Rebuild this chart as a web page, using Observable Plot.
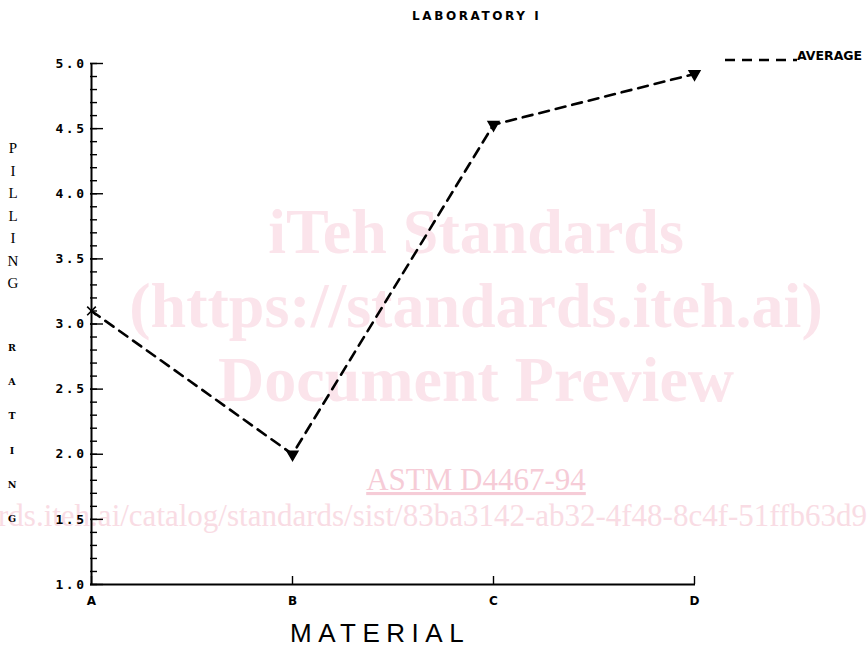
<!DOCTYPE html>
<html><head><meta charset="utf-8">
<script src="https://cdn.jsdelivr.net/npm/d3@7"></script>
<script src="https://cdn.jsdelivr.net/npm/@observablehq/plot@0.6"></script>
<style>
html,body{margin:0;padding:0;background:#fff;}
#chart svg{display:block;}
#chart [aria-label="y-axis tick label"] text{letter-spacing:2.5px;}
</style></head><body><div id="chart"></div>
<script>
const materials = ["A", "B", "C", "D"];
const averageRating = [3.1, 2.0, 4.53, 4.92];
const yMajorTicks = [1.0, 1.5, 2.0, 2.5, 3.0, 3.5, 4.0, 4.5, 5.0];
const yMinorTicks = d3.range(10, 51).map(i => i / 10);
const titleText = "LABORATORY I";
const xLabel = "MATERIAL";
const yLabelTop = "PILLING";
const yLabelBottom = "RATING";
const legendLabel = "AVERAGE";
const watermarkLines = ["iTeh Standards", "(https://standards.iteh.ai)", "Document Preview"];
const watermarkCode = "ASTM D4467-94";
const watermarkUrl = "rds.iteh.ai/catalog/standards/sist/83ba3142-ab32-4f48-8c4f-51ffb63d9";

const data = materials.map((m, i) => ({material: m, rating: averageRating[i]}));

const chart = Plot.plot({
  width: 867, height: 647,
  marginLeft: 90, marginRight: 172, marginTop: 63, marginBottom: 63,
  style: {background: "transparent", color: "#000"},
  x: {type: "point", domain: materials, padding: 0, label: null},
  y: {domain: [1, 5], label: null},
  marks: [
    Plot.axisY(yMinorTicks, {tickSize: -7, tickFormat: () => "", strokeWidth: 1.4, label: null}),
    Plot.axisY(yMajorTicks, {tickSize: -13, tickPadding: 17, tickFormat: d => d.toFixed(1), strokeWidth: 1.4,
      fontSize: 13, fontWeight: "bold", fontFamily: "DejaVu Sans Mono", label: null}),
    Plot.axisX(materials, {tickSize: -8, tickPadding: 20, fontSize: 12, fontWeight: "bold",
      fontFamily: "DejaVu Sans", strokeWidth: 1.4, label: null}),
    Plot.ruleY([1], {strokeWidth: 2}),
    Plot.ruleX([materials[0]], {strokeWidth: 2}),
    Plot.line(data, {x: "material", y: "rating", stroke: "#000", strokeWidth: 2.6, strokeDasharray: "10,7"}),
    Plot.dot(data.filter(d => d.material === "A"), {x: "material", y: "rating", symbol: "times", r: 4, stroke: "#000", strokeWidth: 1.6}),
    Plot.dot(data.filter(d => d.material !== "A"), {x: "material", y: "rating", symbol: "triangle", r: 4, fill: "#000", stroke: "#000", rotate: 180})
  ]
});
document.getElementById("chart").appendChild(chart);

const svg = d3.select(chart);
// watermark behind everything
const wm = svg.insert("g", "g").attr("aria-label", "watermark");
watermarkLines.forEach((t, i) => {
  wm.append("text").attr("x", 476).attr("y", 253 + 74 * i)
    .attr("text-anchor", "middle").attr("font-family", "Liberation Serif").attr("font-weight", "bold")
    .attr("font-size", 64).attr("fill", "#fbe4eb").text(t);
});
wm.append("text").attr("x", 476).attr("y", 490).attr("text-anchor", "middle")
  .attr("font-family", "Liberation Serif").attr("font-size", 31).attr("fill", "#f6ccd7")
  .style("text-decoration", "underline").text(watermarkCode);
wm.append("text").attr("x", -2).attr("y", 526).attr("text-anchor", "start")
  .attr("font-family", "Liberation Serif").attr("font-size", 31).attr("fill", "#f9dce4").text(watermarkUrl);

// title
svg.append("text").attr("x", 412).attr("y", 20).attr("text-anchor", "start").attr("font-family", "DejaVu Sans").attr("font-weight", "bold")
  .attr("font-size", 12).attr("letter-spacing", 2.6).attr("fill", "#000").text(titleText);

// legend
svg.append("line").attr("x1", 725).attr("x2", 797).attr("y1", 60).attr("y2", 60)
  .attr("stroke", "#000").attr("stroke-width", 2.6).attr("stroke-dasharray", "10,7");
svg.append("text").attr("x", 797).attr("y", 60).attr("text-anchor", "start").attr("font-family", "DejaVu Sans").attr("font-weight", "bold")
  .attr("font-size", 12.5).attr("fill", "#000").text(legendLabel);

// x label
svg.append("text").attr("x", 290).attr("y", 642).attr("text-anchor", "start").attr("font-family", "Liberation Sans")
  .attr("font-size", 26).attr("letter-spacing", 6.5).attr("fill", "#000").text(xLabel);

// y label stacked
yLabelTop.split("").forEach((c, i) => {
  svg.append("text").attr("x", 13).attr("y", 153 + 22.5 * i).attr("text-anchor", "middle")
    .attr("font-family", "Liberation Serif").attr("font-size", 15).attr("fill", "#000").text(c);
});
yLabelBottom.split("").forEach((c, i) => {
  svg.append("text").attr("x", 12).attr("y", 351 + 34.2 * i).attr("text-anchor", "middle")
    .attr("font-family", "DejaVu Serif").attr("font-weight", "bold").attr("font-size", 9.5).attr("fill", "#000").text(c);
});
</script></body></html>
